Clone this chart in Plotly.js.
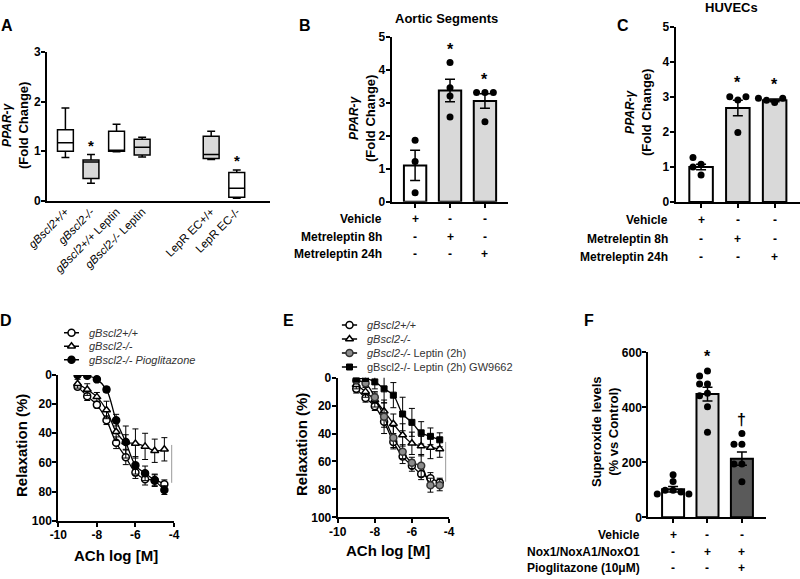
<!DOCTYPE html>
<html>
<head>
<meta charset="utf-8">
<script src="https://cdn.plot.ly/plotly-3.0.1.min.js"></script>
<style>
  html, body { margin: 0; padding: 0; background: #fff; }
  #fig { width: 800px; height: 579px; }
</style>
</head>
<body>
<div id="fig"></div>
<script>
// ---------- data ----------
// A: PPAR-gamma box plots
var aLabels = ['<i>gBscl2+/+</i>', '<i>gBscl2-/-</i>', '<i>gBscl2+/+</i> Leptin', '<i>gBscl2-/-</i> Leptin', 'LepR EC+/+', 'LepR EC-/-'];
var aLowFence = [0.87, 0.35, 0.99, 0.88, 0.83, 0.05];
var aQ1 = [1.00, 0.45, 1.00, 0.92, 0.85, 0.07];
var aMedian = [1.17, 0.78, 1.01, 1.08, 0.93, 0.25];
var aQ3 = [1.43, 0.82, 1.40, 1.24, 1.30, 0.57];
var aHighFence = [1.87, 0.93, 1.54, 1.28, 1.40, 0.62];
var aMarks = ['', '*', '', '', '', '*'];

// B: aortic segments
var bRows = ['Vehicle', 'Metreleptin 8h', 'Metreleptin 24h'];
var bSigns = [['+', '-', '-'], ['-', '+', '-'], ['-', '-', '+']];
var bMean = [1.10, 3.37, 3.05];
var bSem = [0.46, 0.34, 0.22];
var bPoints = [[1.86, 1.22, 0.27], [4.22, 3.45, 3.20, 2.57], [3.31, 3.31, 3.31, 2.42]];
var bMarks = ['', '*', '*'];

// C: HUVECs
var cRows = ['Vehicle', 'Metreleptin 8h', 'Metreleptin 24h'];
var cSigns = [['+', '-', '-'], ['-', '+', '-'], ['-', '-', '+']];
var cMean = [1.00, 2.68, 2.90];
var cSem = [0.08, 0.22, 0.04];
var cPoints = [[1.08, 1.27, 0.77, 1.00], [1.98, 2.91, 3.00, 3.00], [2.84, 2.90, 2.96, 2.96]];
var cMarks = ['', '*', '*'];

// D, E: relaxation curves
var achLog = [-9, -8.5, -8, -7.5, -7, -6.5, -6, -5.5, -5, -4.5];
var dWT = [8, 14.5, 20.5, 31, 46.5, 56.5, 67, 71.5, 72, 75];
var dWTErr = [2, 3, 2, 3, 4, 5, 4, 4, 4, 3];
var dKO = [6, 10, 15, 24, 39, 46, 47, 49, 52, 51];
var dKOErr = [3, 4, 3, 6, 6, 11, 10, 9, 8, 8];
var dPio = [0, 0.5, 3, 10, 31, 46, 62, 67.5, 72.5, 79];
var dPioErr = [1, 1, 1, 2, 4, 5, 6, 5, 4, 3];

var eWT = [8, 14.5, 20.5, 31.5, 46, 56.5, 63, 69, 72, 75];
var eWTErr = [3, 3, 3, 4, 4, 5, 4, 4, 4, 3];
var eKO = [5, 10, 16, 24, 33, 41, 47, 49, 50, 51];
var eKOErr = [3, 4, 5, 6, 7, 8, 8, 7, 8, 6];
var eLep = [2, 4, 14, 28, 43, 53, 61, 63, 77, 77];
var eLepErr = [2, 3, 4, 12, 8, 5, 4, 8, 5, 4];
var eGW = [1, 0.5, 3, 8, 12.5, 26, 32, 39.5, 42, 44.5];
var eGWErr = [1, 2, 5, 10, 9, 12, 10, 8, 6, 5];

// F: superoxide
var fRows = ['Vehicle', 'Nox1/NoxA1/NoxO1', 'Pioglitazone (10\u03bcM)'];
var fSigns = [['+', '-', '-'], ['-', '+', '+'], ['-', '-', '+']];
var fMean = [102, 448, 213];
var fSem = [10, 25, 24];
var fPoints = [[155, 130, 98, 98, 92, 85, 85], [532, 514, 485, 485, 451, 442, 402, 309], [305, 266, 266, 194, 194, 129]];
var fMarks = ['', '*', '\u2020'];

// ---------- helpers ----------
var FONT = 'Liberation Sans, Arial, sans-serif';
var W = 800, H = 579;
function px(x) { return x / W; }
function py(y) { return 1 - y / H; }

var traces = [];
var annotations = [];
var shapes = [];

function txt(text, opts) {
    var a = {
        text: text, showarrow: false, xref: 'paper', yref: 'paper',
        font: {family: FONT, size: 12, color: 'black'}
    };
    for (var k in opts) {
        if (k === 'size') a.font.size = opts[k];
        else if (k === 'color') a.font.color = opts[k];
        else a[k] = opts[k];
    }
    return a;
}

function axis(extra) {
    var base = {
        showline: true, linecolor: 'black', linewidth: 2,
        ticks: 'outside', ticklen: 4, tickwidth: 2, tickcolor: 'black',
        ticklabelstandoff: -2,
        showgrid: false, zeroline: false, fixedrange: true,
        tickfont: {family: FONT, size: 12, color: 'black', weight: 'bold'}
    };
    for (var k in extra) base[k] = extra[k];
    return base;
}

// simple beeswarm: push overlapping dots sideways
function swarm(values, yThresh, xStep) {
    var placed = [];
    var order = [0, -xStep, xStep, -2 * xStep, 2 * xStep];
    return values.map(function(v) {
        for (var k = 0; k < order.length; k++) {
            var free = placed.every(function(p) {
                return Math.abs(p.o - order[k]) > xStep * 0.5 || Math.abs(p.v - v) >= yThresh;
            });
            if (free) {
                placed.push({v: v, o: order[k]});
                return order[k];
            }
        }
        return 0;
    });
}

function addBarPanel(xa, ya, means, sems, points, fills, marks, markPad, yThresh, xStep) {
    traces.push({
        type: 'bar', xaxis: xa, yaxis: ya,
        x: means.map(function(m, i) { return i; }), y: means, width: 0.64,
        marker: {color: fills, line: {color: 'black', width: 2}},
        error_y: {type: 'data', array: sems, visible: true, color: 'black', thickness: 1.5, width: 5},
        showlegend: false, hoverinfo: 'skip'
    });
    points.forEach(function(vals, i) {
        var offs = swarm(vals, yThresh, xStep);
        traces.push({
            type: 'scatter', mode: 'markers', xaxis: xa, yaxis: ya,
            x: offs.map(function(o) { return i + o; }), y: vals,
            marker: {color: 'black', size: 7},
            showlegend: false, hoverinfo: 'skip'
        });
        if (marks[i]) {
            annotations.push(txt('<b>' + marks[i] + '</b>', {
                xref: xa, yref: ya, x: i, y: Math.max.apply(null, vals) + markPad,
                yanchor: 'bottom', size: 16
            }));
        }
    });
}

function addTable(xa, rows, signs, rowY, labelRight) {
    rows.forEach(function(r, k) {
        annotations.push(txt('<b>' + r + '</b>', {
            x: px(labelRight), y: py(rowY[k]), xanchor: 'right', yanchor: 'middle'
        }));
        signs[k].forEach(function(s, i) {
            annotations.push(txt('<b>' + s + '</b>', {
                xref: xa, x: i, y: py(rowY[k]), xanchor: 'center', yanchor: 'middle'
            }));
        });
    });
}

var legendEntries = {x7: [], x8: []};
function addCurve(xa, ya, name, vals, errs, marker, legendAxis) {
    traces.push({
        type: 'scatter', mode: 'lines+markers', xaxis: xa, yaxis: ya,
        x: achLog, y: vals,
        line: {color: 'black', width: 1.3, shape: 'spline', smoothing: 1},
        marker: marker,
        error_y: {type: 'data', array: errs, visible: true, color: 'black', thickness: 1, width: 3},
        showlegend: false, hoverinfo: 'skip'
    });
    legendEntries[legendAxis].push({name: name, marker: marker});
}

// hand built legend: one row per series on its own hidden axis pair
function buildLegend(xa, ya) {
    legendEntries[xa].forEach(function(e, i) {
        traces.push({
            type: 'scatter', mode: 'lines', xaxis: xa, yaxis: ya,
            x: [0, 1], y: [i, i], line: {color: 'black', width: 1.3},
            showlegend: false, hoverinfo: 'skip'
        });
        traces.push({
            type: 'scatter', mode: 'markers', xaxis: xa, yaxis: ya,
            x: [0.5], y: [i], marker: e.marker,
            showlegend: false, hoverinfo: 'skip'
        });
        annotations.push(txt(e.name, {
            xref: xa, yref: ya, x: 1, y: i, xanchor: 'left', yanchor: 'middle',
            xshift: 8, size: 11, color: '#333'
        }));
    });
}

// ---------- panel A ----------
var aGap = 1.7;
var aPos = aLabels.map(function(l, i) { return i + (i >= 4 ? aGap : 0); });
var aFill = ['white', '#d9d9d9', 'white', '#d9d9d9', '#d9d9d9', 'white'];
aLabels.forEach(function(label, i) {
    traces.push({
        type: 'box', orientation: 'v', xaxis: 'x', yaxis: 'y',
        x: [aPos[i]], q1: [aQ1[i]], median: [aMedian[i]], q3: [aQ3[i]],
        lowerfence: [aLowFence[i]], upperfence: [aHighFence[i]],
        width: 0.62, whiskerwidth: 0.5, fillcolor: aFill[i],
        line: {color: 'black', width: 1.5}, boxpoints: false,
        showlegend: false, hoverinfo: 'skip'
    });
    if (aMarks[i]) {
        annotations.push(txt('<b>' + aMarks[i] + '</b>', {xref: 'x', yref: 'y', x: aPos[i], y: aHighFence[i] - 0.03, yanchor: 'bottom', size: 15}));
    }
});

// ---------- panels B, C, F ----------
addBarPanel('x2', 'y2', bMean, bSem, bPoints, ['white', '#d9d9d9', '#d9d9d9'], bMarks, 0.08, 0.21, 0.24);
addTable('x2', bRows, bSigns, [219, 236.7, 254.3], 384);

addBarPanel('x3', 'y3', cMean, cSem, cPoints, ['white', '#d9d9d9', '#d9d9d9'], cMarks, 0.1, 0.2, 0.22);
addTable('x3', cRows, cSigns, [220, 239, 257], 670);

addBarPanel('x6', 'y6', fMean, fSem, fPoints, ['white', '#d9d9d9', '#5a5a5a'], fMarks, 14, 22, 0.23);
addTable('x6', fRows, fSigns, [535, 551.7, 567.7], 641.7);

// ---------- panels D, E ----------
var openCircle = {symbol: 'circle', size: 7, color: 'white', line: {color: 'black', width: 1.5}};
var openTri = {symbol: 'triangle-up', size: 7, color: 'white', line: {color: 'black', width: 1.5}};
var blackCircle = {symbol: 'circle', size: 7, color: 'black', line: {color: 'black', width: 1.5}};
var grayCircle = {symbol: 'circle', size: 7, color: '#8c8c8c', line: {color: '#333', width: 1.5}};
var blackSquare = {symbol: 'square', size: 6, color: 'black', line: {color: 'black', width: 1}};

addCurve('x4', 'y4', '<i>gBscl2+/+</i>', dWT, dWTErr, openCircle, 'x7');
addCurve('x4', 'y4', '<i>gBscl2-/-</i>', dKO, dKOErr, openTri, 'x7');
addCurve('x4', 'y4', '<i>gBscl2-/- Pioglitazone</i>', dPio, dPioErr, blackCircle, 'x7');

addCurve('x5', 'y5', '<i>gBscl2+/+</i>', eWT, eWTErr, openCircle, 'x8');
addCurve('x5', 'y5', '<i>gBscl2-/-</i>', eKO, eKOErr, openTri, 'x8');
addCurve('x5', 'y5', '<i>gBscl2-/-</i> Leptin (2h)', eLep, eLepErr, grayCircle, 'x8');
addCurve('x5', 'y5', 'gBscl2-/- Leptin (2h) GW9662', eGW, eGWErr, blackSquare, 'x8');

buildLegend('x7', 'y7');
buildLegend('x8', 'y8');

// significance brackets
shapes.push({type: 'line', xref: 'x4', yref: 'y4', x0: -4.12, x1: -4.12, y0: 48, y1: 74, line: {color: '#999', width: 1}});
annotations.push(txt('<b>*</b>', {xref: 'x4', yref: 'y4', x: -3.87, y: 62, size: 14}));
shapes.push({type: 'line', xref: 'x5', yref: 'y5', x0: -4.18, x1: -4.18, y0: 46, y1: 74.5, line: {color: '#999', width: 1}});
annotations.push(txt('<b>*</b>', {xref: 'x5', yref: 'y5', x: -3.9, y: 63, size: 14}));

// ---------- titles and labels ----------
var panelLetters = [['A', 7, 25], ['B', 304.5, 25], ['C', 622.5, 25], ['D', 6, 320], ['E', 288, 320], ['F', 589, 320]];
panelLetters.forEach(function(p) {
    annotations.push(txt('<b>' + p[0] + '</b>', {x: px(p[1]), y: py(p[2]), xanchor: 'center', yanchor: 'middle', size: 16}));
});
annotations.push(txt('<b>Aortic Segments</b>', {x: px(446), y: py(18), xanchor: 'center', yanchor: 'middle', size: 13}));
annotations.push(txt('<b>HUVECs</b>', {x: px(731), y: py(7), xanchor: 'center', yanchor: 'middle', size: 13}));

var ppar = '<b><i><span style="font-size:12px">PPAR-\u03b3</span></i><br>(Fold Change)</b>';
annotations.push(txt(ppar, {x: px(15), y: py(126), xanchor: 'center', yanchor: 'middle', textangle: -90, size: 13}));
annotations.push(txt(ppar, {x: px(362), y: py(119), xanchor: 'center', yanchor: 'middle', textangle: -90, size: 13}));
annotations.push(txt(ppar, {x: px(639), y: py(113), xanchor: 'center', yanchor: 'middle', textangle: -90, size: 13}));
annotations.push(txt('<b>Superoxide levels<br>(% vs Control)</b>', {x: px(605), y: py(432), xanchor: 'center', yanchor: 'middle', textangle: -90, size: 13}));

annotations.push(txt('<b>Relaxation (%)</b>', {x: px(21), y: py(446), xanchor: 'center', yanchor: 'middle', textangle: -90, size: 15}));
annotations.push(txt('<b>Relaxation (%)</b>', {x: px(301), y: py(445), xanchor: 'center', yanchor: 'middle', textangle: -90, size: 15}));
annotations.push(txt('<b>ACh log [M]</b>', {x: px(116), y: py(555), xanchor: 'center', yanchor: 'middle', size: 15}));
annotations.push(txt('<b>ACh log [M]</b>', {x: px(388), y: py(550), xanchor: 'center', yanchor: 'middle', size: 15}));

// ---------- layout ----------
var achTicks = [-10, -8, -6, -4];
var achText = achTicks.map(function(v) { return String(v); });
var hidden = {visible: false, fixedrange: true};
function legendAxis(ax, dom, range) {
    var a = {visible: false, fixedrange: true, domain: dom, range: range, anchor: ax};
    return a;
}

var layout = {
    width: W, height: H,
    margin: {l: 0, r: 0, t: 0, b: 0},
    paper_bgcolor: 'white', plot_bgcolor: 'rgba(0,0,0,0)',
    font: {family: FONT, color: 'black'},
    showlegend: false,
    bargap: 0,
    // A
    xaxis: axis({domain: [px(47), px(270)], range: [-0.72, 8], anchor: 'y',
        tickvals: aPos, ticktext: aLabels, tickangle: -45, ticks: '',
        tickfont: {family: FONT, size: 11.5, color: 'black'}}),
    yaxis: axis({domain: [py(200.7), py(52)], range: [0, 3], dtick: 1, anchor: 'x'}),
    // B
    xaxis2: axis({domain: [px(391.7), px(508)], range: [-0.67, 2.66], anchor: 'y2',
        tickvals: [0, 1, 2], showticklabels: false}),
    yaxis2: axis({domain: [py(201.7), py(36.7)], range: [0, 5], dtick: 1, anchor: 'x2'}),
    // C
    xaxis3: axis({domain: [px(675.7), px(800)], range: [-0.69, 2.69], anchor: 'y3',
        tickvals: [0, 1, 2], showticklabels: false}),
    yaxis3: axis({domain: [py(202), py(26.7)], range: [0, 5], dtick: 1, anchor: 'x3'}),
    // D
    xaxis4: axis({domain: [px(58.3), px(174)], range: [-10, -4], anchor: 'y4',
        tickvals: achTicks, ticktext: achText}),
    yaxis4: axis({domain: [py(520.7), py(375)], range: [100, 0], dtick: 20, anchor: 'x4'}),
    // E
    xaxis5: axis({domain: [px(337.7), px(449)], range: [-10, -4], anchor: 'y5',
        tickvals: achTicks, ticktext: achText}),
    yaxis5: axis({domain: [py(517.3), py(377.7)], range: [100, 0], dtick: 20, anchor: 'x5'}),
    // F
    xaxis6: axis({domain: [px(648.3), px(766)], range: [-0.72, 2.7], anchor: 'y6',
        tickvals: [0, 1, 2], showticklabels: false}),
    yaxis6: axis({domain: [py(517.3), py(352.3)], range: [0, 600], dtick: 200, anchor: 'x6'}),
    // legend boxes for D (3 rows) and E (4 rows)
    xaxis7: legendAxis('y7', [px(64), px(79)], [0, 1]),
    yaxis7: legendAxis('x7', [py(366.5), py(326.0)], [2.5, -0.5]),
    xaxis8: legendAxis('y8', [px(341.7), px(357.3)], [0, 1]),
    yaxis8: legendAxis('x8', [py(374), py(318)], [3.5, -0.5]),
    annotations: annotations,
    shapes: shapes
};

Plotly.newPlot('fig', traces, layout, {staticPlot: true, displayModeBar: false});
</script>
</body>
</html>
